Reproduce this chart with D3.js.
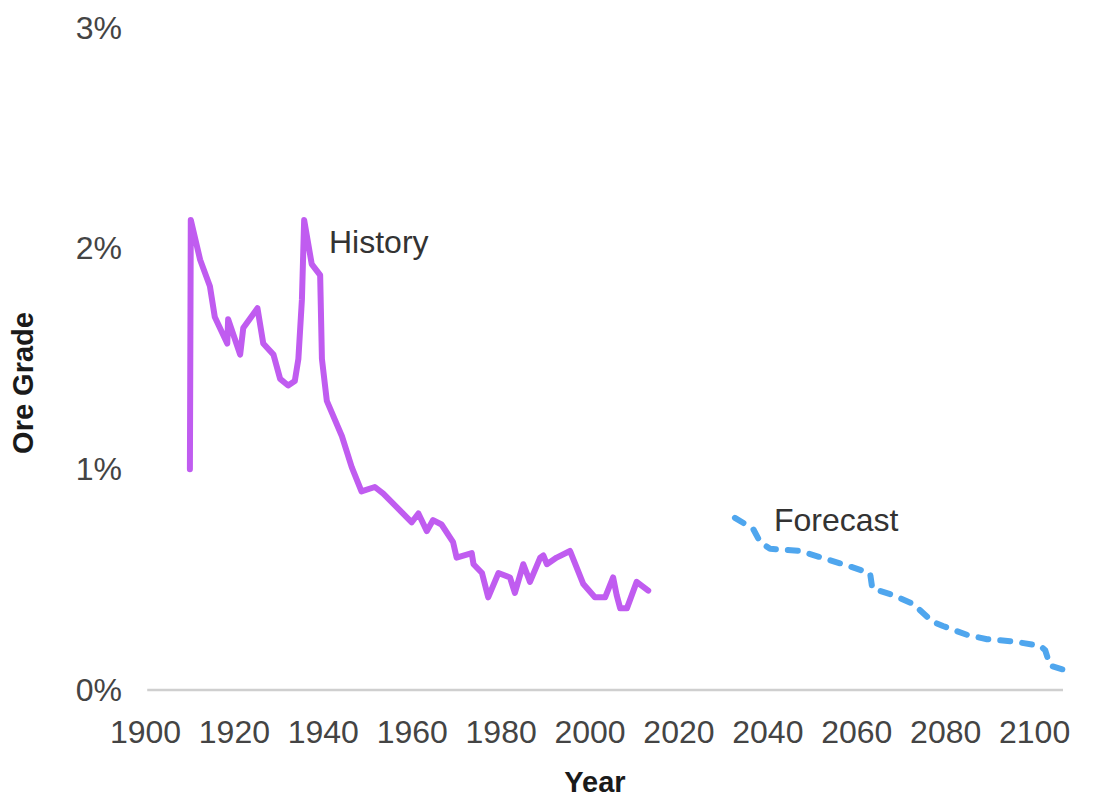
<!DOCTYPE html>
<html>
<head>
<meta charset="utf-8">
<script src="https://cdn.jsdelivr.net/npm/d3@7"></script>
<style>
  body { margin: 0; background: #fff; }
  svg text { font-family: "Liberation Sans", Arial, sans-serif; }
</style>
</head>
<body>
<svg id="chart" width="1100" height="800"></svg>
<script>
// historic ore grade (year, percent)
const historyYears = [1910.1, 1910.3, 1912.4, 1914.6, 1915.7, 1918.5, 1918.7, 1921.4, 1922.1, 1925.3,
  1926.6, 1928.9, 1930.4, 1932.2, 1933.7, 1934.5, 1935.3, 1935.8, 1937.5, 1939.4,
  1939.8, 1940.9, 1944.3, 1946.5, 1948.7, 1951.7, 1953.6, 1960.0, 1961.5, 1963.4,
  1964.8, 1966.7, 1969.3, 1970.1, 1973.5, 1973.9, 1975.8, 1977.2, 1979.5, 1982.1,
  1983.2, 1985.1, 1986.6, 1988.9, 1989.6, 1990.4, 1992.6, 1995.6, 1998.6, 2001.2,
  2003.5, 2005.3, 2006.1, 2006.9, 2008.4, 2010.6, 2013.2];
const historyValues = [1.00, 2.13, 1.95, 1.83, 1.69, 1.57, 1.68, 1.52, 1.64, 1.73,
  1.57, 1.52, 1.41, 1.38, 1.40, 1.50, 1.77, 2.13, 1.93, 1.88,
  1.50, 1.31, 1.15, 1.01, 0.90, 0.92, 0.89, 0.76, 0.80, 0.72,
  0.77, 0.75, 0.67, 0.60, 0.62, 0.57, 0.53, 0.42, 0.53, 0.51,
  0.44, 0.57, 0.49, 0.60, 0.61, 0.57, 0.60, 0.63, 0.48, 0.42,
  0.42, 0.51, 0.43, 0.37, 0.37, 0.49, 0.45];

// forecast ore grade
const forecastYears = [2032.7, 2036.8, 2038.4, 2040.6, 2047.4, 2057.0, 2063.1, 2063.6, 2068.3, 2072.8,
  2077.1, 2079.5, 2084.9, 2089.4, 2095.3, 2101.4, 2102.5, 2103.6, 2107.0];
const forecastValues = [0.78, 0.73, 0.67, 0.64, 0.63, 0.57, 0.53, 0.46, 0.43, 0.39,
  0.31, 0.29, 0.25, 0.23, 0.22, 0.20, 0.18, 0.11, 0.09];

const xTicks = [1900, 1920, 1940, 1960, 1980, 2000, 2020, 2040, 2060, 2080, 2100];
const yTicks = [0, 1, 2, 3];

const svg = d3.select("#chart");

const x = d3.scaleLinear().domain([1900, 2106.5]).range([145, 1063]);
const y = d3.scaleLinear().domain([0, 3]).range([690, 28]);

// linha de base
svg.append("line")
  .attr("x1", x(1900.5)).attr("x2", x(2106.5))
  .attr("y1", y(0)).attr("y2", y(0))
  .attr("stroke", "#cfcfcf").attr("stroke-width", 2.5);

// eixo x
const xAxis = svg.append("g")
  .attr("transform", `translate(0,${y(0)})`)
  .call(d3.axisBottom(x).tickValues(xTicks).tickFormat(d3.format("d")).tickSize(0).tickPadding(30));
xAxis.select(".domain").remove();
xAxis.selectAll("text")
  .attr("font-size", 32).attr("fill", "#444")
  .style("font-family", "'Liberation Sans', Arial, sans-serif");

// eixo y
const yAxis = svg.append("g")
  .attr("transform", `translate(${x(1900)},0)`)
  .call(d3.axisLeft(y).tickValues(yTicks).tickFormat(d => d + "%").tickSize(0).tickPadding(23));
yAxis.select(".domain").remove();
yAxis.selectAll("text")
  .attr("font-size", 32).attr("fill", "#444")
  .style("font-family", "'Liberation Sans', Arial, sans-serif");

const line = d3.line().x(d => x(d[0])).y(d => y(d[1]));

const historyData = historyYears.map((yr, i) => [yr, historyValues[i]]);
const forecastData = forecastYears.map((yr, i) => [yr, forecastValues[i]]);

svg.append("path")
  .datum(historyData)
  .attr("d", line)
  .attr("fill", "none")
  .attr("stroke", "#c05cf0")
  .attr("stroke-width", 6)
  .attr("stroke-linejoin", "round")
  .attr("stroke-linecap", "round");

svg.append("path")
  .datum(forecastData)
  .attr("d", line)
  .attr("fill", "none")
  .attr("stroke", "#4fa6ee")
  .attr("stroke-width", 6)
  .attr("stroke-dasharray", "10 12")
  .attr("stroke-linejoin", "round")
  .attr("stroke-linecap", "round");

// rótulos das séries
svg.append("text")
  .attr("x", 329).attr("y", 253)
  .attr("font-size", 32).attr("fill", "#333")
  .text("History");

svg.append("text")
  .attr("x", 774).attr("y", 531)
  .attr("font-size", 32).attr("fill", "#333")
  .text("Forecast");

// títulos dos eixos
svg.append("text")
  .attr("transform", "translate(33,383) rotate(-90)")
  .attr("text-anchor", "middle")
  .attr("font-size", 29).attr("font-weight", "bold").attr("fill", "#1a1a1a")
  .text("Ore Grade");

svg.append("text")
  .attr("x", 595).attr("y", 792)
  .attr("text-anchor", "middle")
  .attr("font-size", 29).attr("font-weight", "bold").attr("fill", "#1a1a1a")
  .text("Year");
</script>
</body>
</html>
